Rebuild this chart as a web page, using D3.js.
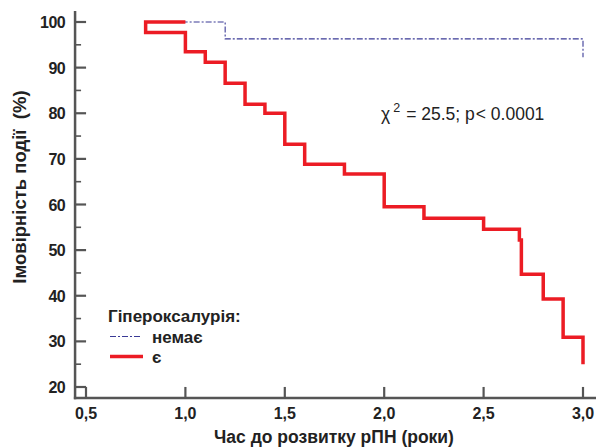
<!DOCTYPE html>
<html><head><meta charset="utf-8">
<script src="https://cdn.jsdelivr.net/npm/d3@7"></script>
<style>
body{margin:0;background:#fff;}
text{font-family:"Liberation Sans",Arial,sans-serif;}
</style>
</head><body>
<svg id="c" width="596" height="447"></svg>
<script>
// Data
const xTicks = [0.5, 1.0, 1.5, 2.0, 2.5, 3.0];
const xTickLabels = ["0,5", "1,0", "1,5", "2,0", "2,5", "3,0"];
const yTicks = [20, 30, 40, 50, 60, 70, 80, 90, 100];
const yMinorTicks = [25, 35, 45, 55, 65, 75, 85, 95];
// "є" (present) group: step times and survival values
const redTimes  = [1.0, 0.8, 0.8, 1.0, 1.1, 1.2, 1.3, 1.4, 1.5, 1.6, 1.8, 2.0, 2.2, 2.5, 2.68, 2.69, 2.8, 2.9, 3.0, 3.0];
const redValues = [100, 100, 97.7, 93.5, 91.2, 86.6, 82.0, 80.0, 73.2, 68.8, 66.7, 59.5, 57.0, 54.6, 52.2, 44.7, 39.3, 30.9, 25.0, 25.0];
// "немає" (absent) group
const blueTimes  = [0.8, 1.2, 3.0, 3.0];
const blueValues = [100, 96.3, 92.3, 92.3];
const legendTitle = "Гіпероксалурія:";
const seriesNames = ["немає", "є"];
const xLabel = "Час до розвитку рПН (роки)";
const yLabel = "Імовірність події  (%)";

const svg = d3.select("#c");
const x = d3.scaleLinear().domain([0.5, 3.0]).range([86, 583]);
const y = d3.scaleLinear().domain([20, 100]).range([387, 22]);
const axisColor = "#555";
const x0 = x(0.445), yBottom = y(17.6), yTop = y(102.4), xRight = 596;

// axes lines
svg.append("line").attr("x1", x0).attr("x2", x0).attr("y1", yTop).attr("y2", yBottom + 1.2)
  .attr("stroke", axisColor).attr("stroke-width", 2.5);
svg.append("line").attr("x1", x0 - 1.2).attr("x2", xRight).attr("y1", yBottom).attr("y2", yBottom)
  .attr("stroke", axisColor).attr("stroke-width", 2.5);

// y ticks (inward)
svg.selectAll(".yt").data(yTicks).enter().append("line")
  .attr("x1", x0 - 1).attr("x2", x0 + 11).attr("y1", d => y(d)).attr("y2", d => y(d))
  .attr("stroke", axisColor).attr("stroke-width", 2.2);
svg.selectAll(".ymt").data(yMinorTicks).enter().append("line")
  .attr("x1", x0).attr("x2", x0 + 6).attr("y1", d => y(d)).attr("y2", d => y(d))
  .attr("stroke", axisColor).attr("stroke-width", 1.6);
svg.selectAll(".yl").data(yTicks).enter().append("text")
  .attr("x", 65).attr("y", d => y(d) + 6).attr("text-anchor", "end")
  .attr("font-size", 16).attr("font-weight", "bold").attr("fill", "#222")
  .attr("letter-spacing", -0.6).text(d => d);

// x ticks (inward)
svg.selectAll(".xt").data(xTicks).enter().append("line")
  .attr("x1", d => x(d)).attr("x2", d => x(d)).attr("y1", yBottom + 1).attr("y2", yBottom - 11)
  .attr("stroke", axisColor).attr("stroke-width", 2.2);
svg.selectAll(".xl").data(xTicks).enter().append("text")
  .attr("x", d => x(d)).attr("y", 419).attr("text-anchor", "middle")
  .attr("font-size", 16).attr("font-weight", "bold").attr("fill", "#222")
  .text((d, i) => xTickLabels[i]);

// axis titles
svg.append("text").attr("x", 334).attr("y", 443).attr("text-anchor", "middle")
  .attr("font-size", 17.5).attr("font-weight", "bold").attr("fill", "#222").text(xLabel);
svg.append("text").attr("transform", "translate(26,187) rotate(-90)").attr("text-anchor", "middle")
  .attr("font-size", 18.5).attr("font-weight", "bold").attr("fill", "#222")
  .attr("xml:space", "preserve").style("white-space", "pre").text(yLabel);

// lines
const line = d3.line().x(d => x(d[0])).y(d => y(d[1])).curve(d3.curveStepAfter);
svg.append("path").datum(blueTimes.map((t, i) => [t, blueValues[i]]))
  .attr("d", line).attr("fill", "none").attr("stroke", "#3a3a96").attr("stroke-width", 1.1)
  .attr("stroke-dasharray", "6,2,2,2");
svg.append("path").datum(redTimes.map((t, i) => [t, redValues[i]]))
  .attr("d", line).attr("fill", "none").attr("stroke", "#ec1c24").attr("stroke-width", 3.5)
  .attr("stroke-linejoin", "miter").attr("stroke-linecap", "butt");

// annotation
const ann = svg.append("text").attr("x", 381).attr("y", 120).attr("font-size", 17.5).attr("fill", "#222");
ann.append("tspan").text("χ");
ann.append("tspan").attr("dx", 3).attr("dy", -8).attr("font-size", 12.5).text("2");
ann.append("tspan").attr("dx", 6).attr("dy", 8).text("= 25.5; p");
ann.append("tspan").attr("dx", 1).text("< 0.0001");

// legend
svg.append("text").attr("x", 108).attr("y", 322).attr("font-size", 17).attr("font-weight", "bold")
  .attr("fill", "#222").text(legendTitle);
svg.append("line").attr("x1", 110).attr("x2", 142).attr("y1", 336.5).attr("y2", 336.5)
  .attr("stroke", "#3a3a96").attr("stroke-width", 1.1).attr("stroke-dasharray", "6,2,2,2");
svg.append("line").attr("x1", 110).attr("x2", 143).attr("y1", 356.5).attr("y2", 356.5)
  .attr("stroke", "#ec1c24").attr("stroke-width", 3.5);
svg.append("text").attr("x", 152).attr("y", 342.5).attr("font-size", 17).attr("font-weight", "bold")
  .attr("fill", "#222").text(seriesNames[0]);
svg.append("text").attr("x", 152).attr("y", 362.5).attr("font-size", 17).attr("font-weight", "bold")
  .attr("fill", "#222").text(seriesNames[1]);
</script>
</body></html>
